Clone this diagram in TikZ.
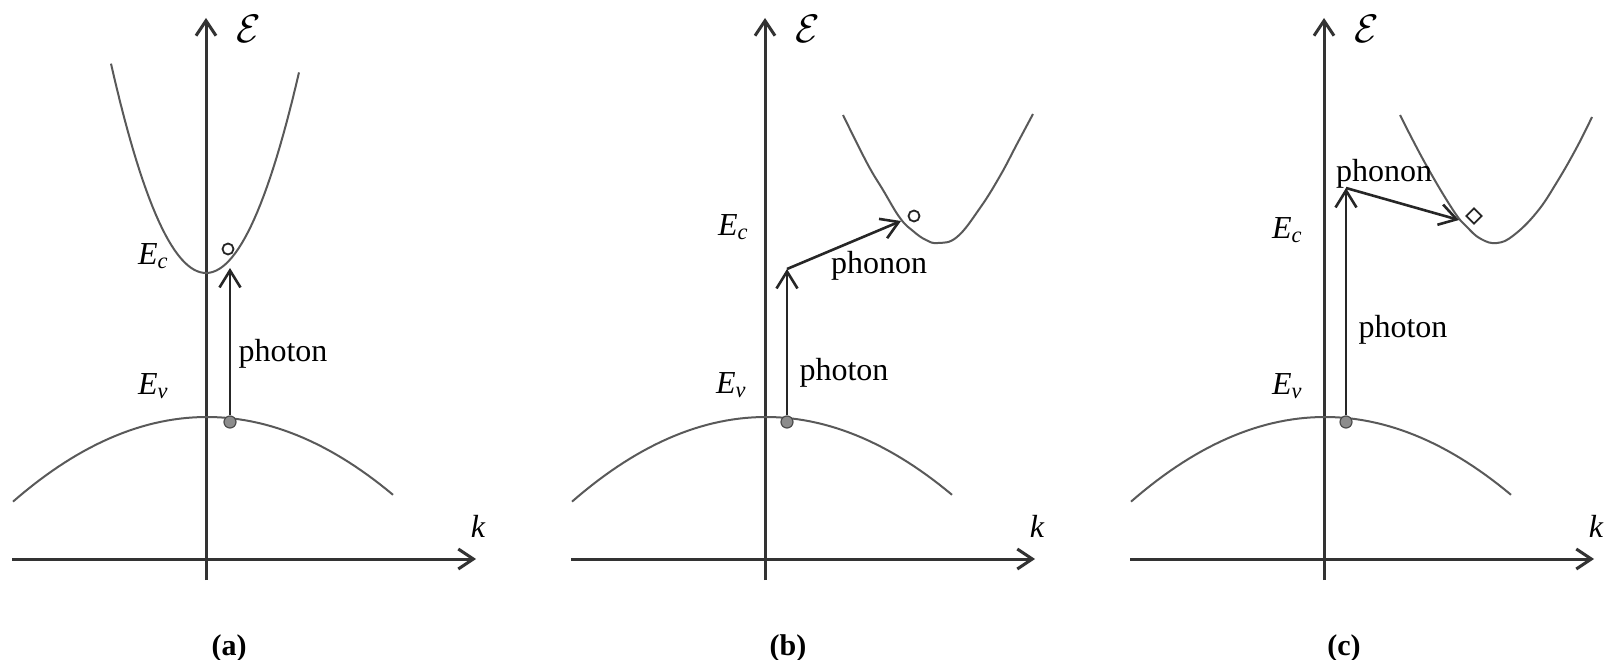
\documentclass[tikz,border=0pt]{standalone}
\usepackage{graphicx}
\usepackage{fontspec}
\setmainfont{Liberation Serif}
\usetikzlibrary{arrows.meta,shapes.geometric}
\tikzset{
  axisline/.style={line width=3pt, draw=black!80, -{Straight Barb[length=15pt,width=20pt]}},
  bandline/.style={line width=2pt, draw=black!65},
  transline/.style={line width=2.6pt, draw=black!85, -{Straight Barb[length=17pt,width=21pt]}},
  txt/.style={inner sep=0pt, font=\fontsize{32}{32}\selectfont},
  elabel/.style={inner sep=0pt, font=\fontsize{32}{32}\selectfont},
  biglabel/.style={inner sep=0pt, font=\fontsize{24}{24}\selectfont},
  panlabel/.style={inner sep=0pt, font=\fontsize{30}{30}\selectfont\bfseries},
  hole/.style={circle, draw=black!70, fill=black!45, line width=1.2pt, minimum size=12pt, inner sep=0pt},
  excited/.style={circle, draw=black!85, line width=1.8pt, minimum size=11pt, inner sep=0pt},
  excitedd/.style={diamond, draw=black!85, line width=1.8pt, minimum size=16pt, inner sep=0pt},
}
\newcommand{\bigE}{\scalebox{1.6}{$\mathcal{E}$}}
\begin{document}
\begin{tikzpicture}[x=1pt,y=-1pt]
\useasboundingbox (0,0) rectangle (1604,660);
% ---------------- panel (a)
\coordinate (vA0) at (206,580); \coordinate (vA1) at (206,18);
\coordinate (hA0) at (12,559);  \coordinate (hA1) at (476,559);
\draw[axisline] (vA0) -- (vA1);
\draw[axisline] (hA0) -- (hA1);
\draw[bandline] plot[domain=-95:93,samples=60] ({206+\x},{273-(0.1523*\x)*(0.1523*\x)});
\draw[bandline] plot[domain=-194:186,samples=60] ({207+\x},{417+(0.04743*\x)*(0.04743*\x)});
\node[hole] (dA) at (230,422) {};
\coordinate (tA) at (230,268);
\draw[transline] (dA) -- (tA);
\node[excited] (eA) at (228,249) {};
\node[biglabel] (calA) at (249,29) {\bigE};
\node[txt] (kA) at (478,526) {\itshape k};
\node[elabel] (EcA) at (153,256) {\itshape E\textsubscript{c}};
\node[elabel] (EvA) at (153,386) {\itshape E\textsubscript{v}};
\node[txt] (phA) at (283,354) {photon};
\node[panlabel] (lA) at (229,648) {(a)};
% ---------------- panel (b)
\coordinate (vB0) at (765,580); \coordinate (vB1) at (765,18);
\coordinate (hB0) at (571,559); \coordinate (hB1) at (1035,559);
\draw[axisline] (vB0) -- (vB1);
\draw[axisline] (hB0) -- (hB1);
\draw[bandline] plot[smooth,tension=0.7] coordinates {(843,115) (867,163) (883,190) (900,218) (913,231) (926,240) (938,243) (957,237) (980,208) (1000,176) (1017,144) (1033,114)};
\draw[bandline] plot[domain=-194:186,samples=60] ({766+\x},{417+(0.04743*\x)*(0.04743*\x)});
\node[hole] (dB) at (787,422) {};
\coordinate (tB) at (787,269);
\draw[transline] (dB) -- (tB);
\node[excited] (eB) at (914,216) {};
\coordinate (pB) at (901,221);
\draw[transline] (tB) -- (pB);
\node[biglabel] (calB) at (808,29) {\bigE};
\node[txt] (kB) at (1037,526) {\itshape k};
\node[elabel] (EcB) at (733,227) {\itshape E\textsubscript{c}};
\node[elabel] (EvB) at (731,385) {\itshape E\textsubscript{v}};
\node[txt] (phB) at (844,373) {photon};
\node[txt] (pnB) at (879,266) {phonon};
\node[panlabel] (lB) at (788,648) {(b)};
% ---------------- panel (c)
\coordinate (vC0) at (1324,580); \coordinate (vC1) at (1324,18);
\coordinate (hC0) at (1130,559); \coordinate (hC1) at (1594,559);
\draw[axisline] (vC0) -- (vC1);
\draw[axisline] (hC0) -- (hC1);
\draw[bandline] plot[smooth,tension=0.7] coordinates {(1400,115) (1425,163) (1453,210) (1467,227) (1481,239) (1497,243) (1514,235) (1537,212) (1557,182) (1577,147) (1592,117)};
\draw[bandline] plot[domain=-194:186,samples=60] ({1325+\x},{417+(0.04743*\x)*(0.04743*\x)});
\node[hole] (dC) at (1346,422) {};
\coordinate (tC) at (1346,188);
\draw[transline] (dC) -- (tC);
\node[excitedd] (eC) at (1474,216) {};
\coordinate (pC) at (1459,220);
\draw[transline] (tC) -- (pC);
\node[biglabel] (calC) at (1367,29) {\bigE};
\node[txt] (kC) at (1596,526) {\itshape k};
\node[elabel] (EcC) at (1287,230) {\itshape E\textsubscript{c}};
\node[elabel] (EvC) at (1287,386) {\itshape E\textsubscript{v}};
\node[txt] (phC) at (1403,330) {photon};
\node[txt] (pnC) at (1384,174) {phonon};
\node[panlabel] (lC) at (1344,648) {(c)};
\end{tikzpicture}
\end{document}
